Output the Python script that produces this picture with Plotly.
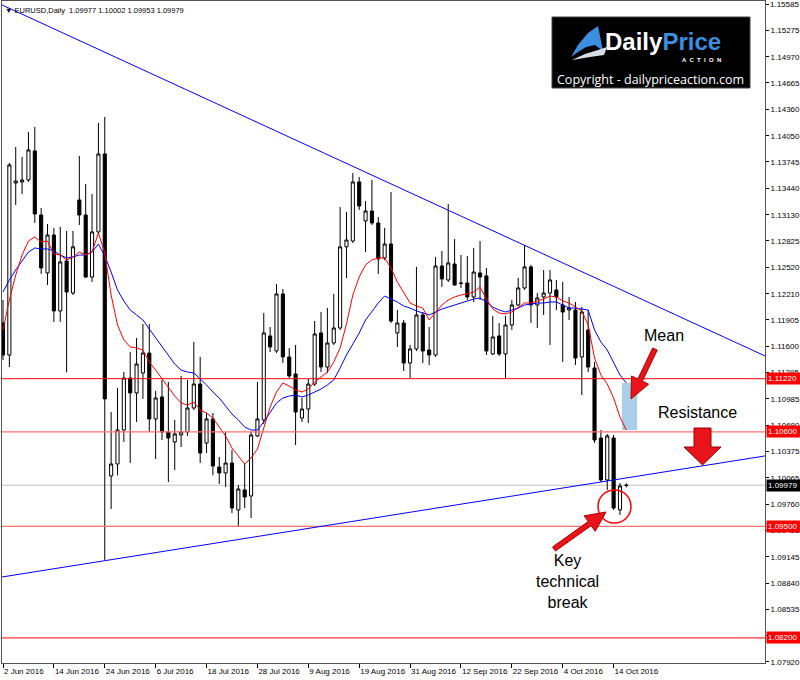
import math
import plotly.graph_objects as go
import pandas as pd

# ---------------- data ----------------
dates = [d.strftime("%Y-%m-%d") for d in pd.bdate_range("2016-06-02", "2016-10-18")]

opens = [1.11869, 1.11496, 1.13500, 1.13512, 1.13535, 1.13873, 1.13127, 1.12452, 1.12894, 1.12009,
         1.12591, 1.12218, 1.13302, 1.13127, 1.12405, 1.12930, 1.13838, 1.10087, 1.10226, 1.10622,
         1.11228, 1.11054, 1.11287, 1.11519, 1.10751, 1.11007, 1.10599, 1.10483, 1.10564, 1.10599,
         1.10879, 1.11158, 1.10471, 1.10751, 1.10191, 1.10122, 1.10238, 1.09691, 1.09924, 1.09854,
         1.10553, 1.10739, 1.11718, 1.11543, 1.12207, 1.11473, 1.11275, 1.10762, 1.10867, 1.11158,
         1.11753, 1.11356, 1.11636, 1.11811, 1.12756, 1.12824, 1.13512, 1.13057, 1.13174, 1.13034,
         1.12627, 1.12789, 1.11753, 1.11869, 1.11403, 1.11566, 1.11962, 1.11555, 1.11496, 1.12533,
         1.12370, 1.12556, 1.12335, 1.12335, 1.12172, 1.12452, 1.12417, 1.11508, 1.11718, 1.11508,
         1.11846, 1.12079, 1.12277, 1.12522, 1.12079, 1.12172, 1.12218, 1.12254, 1.12079, 1.12021,
         1.12021, 1.11473, 1.11788, 1.11345, 1.10529, 1.10040, 1.10529, 1.09691, 1.09977]
highs = [1.12137, 1.13733, 1.13919, 1.13803, 1.14094, 1.14153, 1.13209, 1.13022, 1.12976, 1.12987,
         1.12941, 1.12941, 1.13815, 1.13488, 1.13372, 1.14199, 1.14269, 1.10832, 1.11112, 1.11298,
         1.11531, 1.11694, 1.11857, 1.11857, 1.11077, 1.11205, 1.11182, 1.10739, 1.11252, 1.11205,
         1.11648, 1.11473, 1.10821, 1.10821, 1.10308, 1.10599, 1.10390, 1.09982, 1.10238, 1.10599,
         1.11182, 1.11986, 1.11823, 1.12323, 1.12265, 1.11578, 1.11613, 1.10995, 1.11217, 1.11892,
         1.11997, 1.12044, 1.12207, 1.13220, 1.13162, 1.13617, 1.13570, 1.13290, 1.13535, 1.13104,
         1.12976, 1.13395, 1.12020, 1.11904, 1.11613, 1.12522, 1.11997, 1.11823, 1.12638, 1.12708,
         1.13255, 1.12848, 1.12661, 1.12650, 1.12743, 1.12825, 1.12510, 1.11951, 1.11869, 1.11951,
         1.12137, 1.12394, 1.12778, 1.12545, 1.12218, 1.12487, 1.12487, 1.12370, 1.12347, 1.12172,
         1.12114, 1.12055, 1.12021, 1.11415, 1.10622, 1.10576, 1.10564, 1.10005, 1.10002]
lows = [1.11438, 1.11356, 1.13244, 1.13372, 1.13512, 1.13034, 1.12440, 1.12312, 1.11881, 1.11881,
        1.11294, 1.12195, 1.13011, 1.12393, 1.12347, 1.12906, 1.09108, 1.09702, 1.10094, 1.10483,
        1.10238, 1.10716, 1.10984, 1.10599, 1.10285, 1.10506, 1.10017, 1.10157, 1.10424, 1.10553,
        1.10856, 1.10238, 1.10355, 1.10094, 1.09993, 1.09959, 1.09656, 1.09504, 1.09714, 1.09597,
        1.10541, 1.10692, 1.11531, 1.11519, 1.11403, 1.11228, 1.10448, 1.10716, 1.10704, 1.11135,
        1.11298, 1.11287, 1.11613, 1.11788, 1.12393, 1.12801, 1.13186, 1.12696, 1.13011, 1.12440,
        1.12603, 1.11869, 1.11590, 1.11310, 1.11228, 1.11543, 1.11403, 1.11380, 1.11473, 1.12289,
        1.12347, 1.12300, 1.12277, 1.12137, 1.12114, 1.12137, 1.11496, 1.11496, 1.11485, 1.11228,
        1.11788, 1.12067, 1.12254, 1.11869, 1.11811, 1.11962, 1.11613, 1.12020, 1.11415, 1.11904,
        1.11380, 1.11030, 1.11298, 1.10471, 1.10017, 1.09924, 1.09691, 1.09632, 1.09953]
closes = [1.11496, 1.13710, 1.13523, 1.13535, 1.13885, 1.13139, 1.12510, 1.12894, 1.12009, 1.12580,
          1.12230, 1.12756, 1.13127, 1.12405, 1.12930, 1.13838, 1.10984, 1.10226, 1.10622, 1.11228,
          1.11054, 1.11391, 1.11519, 1.10751, 1.10995, 1.10599, 1.10529, 1.10576, 1.10599, 1.10879,
          1.11158, 1.10355, 1.10751, 1.10203, 1.10122, 1.10238, 1.09714, 1.09935, 1.09842, 1.10564,
          1.10751, 1.11753, 1.11590, 1.12207, 1.11473, 1.11252, 1.10832, 1.10867, 1.11158, 1.11741,
          1.11356, 1.11636, 1.11811, 1.12756, 1.12836, 1.13512, 1.13232, 1.13174, 1.13034, 1.12615,
          1.12789, 1.11892, 1.11869, 1.11403, 1.11566, 1.11962, 1.11543, 1.11496, 1.12533, 1.12382,
          1.12568, 1.12312, 1.12330, 1.12172, 1.12463, 1.12405, 1.11543, 1.11706, 1.11508, 1.11846,
          1.12079, 1.12277, 1.12522, 1.12079, 1.12160, 1.12218, 1.12370, 1.12172, 1.11997, 1.12044,
          1.11461, 1.11997, 1.11356, 1.10506, 1.10040, 1.10553, 1.09714, 1.09970, 1.09979]

ma_fast = [1.11787, 1.12137, 1.12428, 1.12661, 1.12824, 1.12871, 1.12813, 1.12824, 1.12673, 1.12661,
           1.12603, 1.12638, 1.12696, 1.12661, 1.12696, 1.12918, 1.12685, 1.12195, 1.11846, 1.11671,
           1.11590, 1.11578, 1.11554, 1.11414, 1.11321, 1.11216, 1.11123, 1.11018, 1.10937, 1.10913,
           1.10948, 1.10855, 1.10820, 1.10762, 1.10657, 1.10552, 1.10413, 1.10319, 1.10226, 1.10296,
           1.10401, 1.10646, 1.10890, 1.11065, 1.11170, 1.11135, 1.11088, 1.11065, 1.11100, 1.11182,
           1.11240, 1.11298, 1.11414, 1.11578, 1.11857, 1.12195, 1.12405, 1.12545, 1.12603, 1.12627,
           1.12627, 1.12510, 1.12347, 1.12218, 1.12102, 1.12067, 1.12043, 1.11904, 1.11985, 1.12078,
           1.12137, 1.12172, 1.12195, 1.12207, 1.12230, 1.12288, 1.12148, 1.12032, 1.11985, 1.11974,
           1.11997, 1.12055, 1.12102, 1.12102, 1.12125, 1.12148, 1.12183, 1.12172, 1.12125, 1.12102,
           1.12055, 1.12009, 1.11846, 1.11461, 1.11263, 1.11158, 1.10995, 1.10774, 1.10622]
ma_slow = [1.12230, 1.12370, 1.12487, 1.12592, 1.12696, 1.12743, 1.12731, 1.12731, 1.12708, 1.12661,
           1.12627, 1.12638, 1.12661, 1.12661, 1.12696, 1.12789, 1.12650, 1.12463, 1.12253, 1.12125,
           1.12020, 1.11962, 1.11904, 1.11799, 1.11694, 1.11590, 1.11496, 1.11391, 1.11321, 1.11298,
           1.11287, 1.11217, 1.11147, 1.11065, 1.10995, 1.10902, 1.10809, 1.10739, 1.10657, 1.10622,
           1.10622, 1.10716, 1.10832, 1.10937, 1.10995, 1.11018, 1.11030, 1.11007, 1.11030, 1.11065,
           1.11100, 1.11147, 1.11205, 1.11345, 1.11496, 1.11624, 1.11752, 1.11904, 1.12009, 1.12102,
           1.12183, 1.12148, 1.12114, 1.12067, 1.12043, 1.12009, 1.11985, 1.11962, 1.11997, 1.12032,
           1.12055, 1.12078, 1.12102, 1.12125, 1.12148, 1.12160, 1.12114, 1.12055, 1.12020, 1.11997,
           1.12020, 1.12043, 1.12078, 1.12090, 1.12102, 1.12102, 1.12114, 1.12114, 1.12078, 1.12043,
           1.12043, 1.12032, 1.12020, 1.11787, 1.11648, 1.11554, 1.11414, 1.11263, 1.11170]

tick_index = [0, 8, 16, 24, 32, 40, 48, 56, 64, 72, 80, 88, 96]
tick_labels = ["2 Jun 2016", "14 Jun 2016", "24 Jun 2016", "6 Jul 2016", "18 Jul 2016",
               "28 Jul 2016", "9 Aug 2016", "19 Aug 2016", "31 Aug 2016", "12 Sep 2016",
               "22 Sep 2016", "4 Oct 2016", "14 Oct 2016"]
price_ticks = [1.15585, 1.15275, 1.14970, 1.14665, 1.14360, 1.14050, 1.13745, 1.13440, 1.13130,
               1.12825, 1.12520, 1.12210, 1.11905, 1.11600, 1.11295, 1.10985, 1.10680, 1.10375,
               1.10065, 1.09760, 1.09455, 1.09145, 1.08840, 1.08535, 1.08230, 1.07920]
levels = [1.11220, 1.10600, 1.09500, 1.08200]
level_colors = ["#ff0000", "#ff7070", "#ff7070", "#ff0000"]
last_price = 1.09979
upper_trend = [1.15574, 1.11485]   # price at left / right edge of chart
lower_trend = [1.08910, 1.10320]
mean_zone = [1.10622, 1.11170]

# ---------------- figure ----------------
W, H = 800, 680
L, R, T, B = 2, 765, 1, 663
X0, X1 = -0.157, 119.8
Y0, Y1 = 1.07908, 1.15620

def px(x, y):
    return (x - L) / (R - L), (B - y) / (B - T)

def poly(points):
    s = ""
    for k, (x, y) in enumerate(points):
        a, b = px(x, y)
        s += ("M" if k == 0 else "L") + f"{a:.5f},{b:.5f} "
    return s + "Z"

def arrow_path(tail, tip, shaft_w, head_w, head_len):
    tx, ty = tail
    hx, hy = tip
    dx, dy = hx - tx, hy - ty
    d = math.hypot(dx, dy)
    ux, uy = dx / d, dy / d
    nx, ny = -uy, ux
    bx, by = hx - ux * head_len, hy - uy * head_len
    pts = [(tx + nx * shaft_w / 2, ty + ny * shaft_w / 2),
           (bx + nx * shaft_w / 2, by + ny * shaft_w / 2),
           (bx + nx * head_w / 2, by + ny * head_w / 2),
           (hx, hy),
           (bx - nx * head_w / 2, by - ny * head_w / 2),
           (bx - nx * shaft_w / 2, by - ny * shaft_w / 2),
           (tx - nx * shaft_w / 2, ty - ny * shaft_w / 2)]
    return poly(pts)

fig = go.Figure()
fig.add_trace(go.Candlestick(
    x=dates, open=opens, high=highs, low=lows, close=closes,
    increasing=dict(fillcolor="white", line=dict(color="black", width=1)),
    decreasing=dict(fillcolor="black", line=dict(color="black", width=1)),
    whiskerwidth=0, showlegend=False, hoverinfo="skip"))
fig.add_trace(go.Scatter(x=dates, y=ma_slow, mode="lines",
                         line=dict(color="#0000ff", width=1), showlegend=False, hoverinfo="skip"))
fig.add_trace(go.Scatter(x=dates, y=ma_fast, mode="lines",
                         line=dict(color="#ff0000", width=1), showlegend=False, hoverinfo="skip"))

shapes = []
shapes.append(dict(type="rect", xref="x", yref="y", x0=97.3, x1=99.7, y0=mean_zone[0], y1=mean_zone[1],
                   fillcolor="#a9cfea", line=dict(width=0), layer="below"))
shapes.append(dict(type="line", xref="paper", yref="y", x0=0, x1=1, y0=last_price, y1=last_price,
                   line=dict(color="#c0c0c0", width=1), layer="below"))
for lv, col in zip(levels, level_colors):
    shapes.append(dict(type="line", xref="paper", yref="y", x0=0, x1=1, y0=lv, y1=lv,
                       line=dict(color=col, width=1.3 if col != "#ff0000" else 1)))
shapes.append(dict(type="line", xref="x", yref="y", x0=X0, x1=X1, y0=upper_trend[0], y1=upper_trend[1],
                   line=dict(color="#0000ff", width=1)))
shapes.append(dict(type="line", xref="x", yref="y", x0=X0, x1=X1, y0=lower_trend[0], y1=lower_trend[1],
                   line=dict(color="#0000ff", width=1)))
cx0, cy0 = px(598, 523)
cx1, cy1 = px(631, 490)
shapes.append(dict(type="circle", xref="paper", yref="paper", x0=cx0, y0=cy0, x1=cx1, y1=cy1,
                   line=dict(color="#ff0000", width=1.5)))
shapes.append(dict(type="path", xref="paper", yref="paper",
                   path=arrow_path((655, 349), (631, 399), 5, 19, 21),
                   fillcolor="#e8141a", line=dict(color="#b00000", width=1)))
shapes.append(dict(type="path", xref="paper", yref="paper",
                   path=arrow_path((554, 549), (606, 512), 5, 19, 20),
                   fillcolor="#e8141a", line=dict(color="#b00000", width=1)))
shapes.append(dict(type="path", xref="paper", yref="paper",
                   path=poly([(694, 428), (711, 428), (711, 447), (721, 447), (702.5, 465), (684, 447), (694, 447)]),
                   fillcolor="#e8141a", line=dict(color="#9a0000", width=1)))

# logo
lx0, ly0 = px(552, 88)
lx1, ly1 = px(750, 17)
shapes.append(dict(type="rect", xref="paper", yref="paper", x0=lx0, y0=ly0, x1=lx1, y1=ly1,
                   fillcolor="black", line=dict(color="#444444", width=1)))
shapes.append(dict(type="path", xref="paper", yref="paper",
                   path=poly([(571, 57), (578, 45), (588, 33), (598, 26), (600, 36), (603, 51),
                              (595, 45), (586, 47), (578, 52)]),
                   fillcolor="#3b8fe0", line=dict(width=0)))
shapes.append(dict(type="path", xref="paper", yref="paper",
                   path=poly([(572, 60), (585, 54), (598, 50), (607, 47), (604, 55), (590, 57)]),
                   fillcolor="#d8dde3", line=dict(width=0)))

annotations = []
def text_at(x, y, text, size, color="black", xanchor="center", family="Liberation Sans"):
    a, b = px(x, y)
    annotations.append(dict(x=a, y=b, xref="paper", yref="paper", text=text, showarrow=False,
                            xanchor=xanchor, yanchor="middle",
                            font=dict(family=family, size=size, color=color)))

text_at(3, 10, "▼ EURUSD,Daily  1.09977 1.10002 1.09953 1.09979", 7.5, xanchor="left")
text_at(664, 335, "Mean", 16)
text_at(697, 413, "Resistance", 16)
text_at(567, 581, "Key<br>technical<br>break", 16)
text_at(663, 42, "<b>Daily<span style='color:#3b8fe0'>Price</span></b>", 24, color="white")
text_at(701, 60, "<b>A  C  T  I  O  N</b>", 6, color="white")
text_at(650, 79, "Copyright - dailypriceaction.com", 12.5, color="white", family="Open Sans")

# top tick label (plotly drops it at the very edge)
annotations.append(dict(x=1, y=price_ticks[0], xref="paper", yref="y", xanchor="left", yanchor="middle",
                        text=f"{price_ticks[0]:.5f}", showarrow=False, xshift=3,
                        font=dict(family="Liberation Sans", size=8, color="black")))

for lv, col in zip(levels + [last_price], ["#ff0000"] * 4 + ["black"]):
    annotations.append(dict(x=1, y=lv, xref="paper", yref="y", xanchor="left", yanchor="middle",
                            text=f"{lv:.5f}", showarrow=False, bgcolor=col, borderpad=1,
                            width=31, align="left", xshift=1,
                            font=dict(family="Liberation Sans", size=8, color="white")))

fig.update_layout(
    width=W, height=H, margin=dict(l=L, r=W - R, t=T, b=H - B, autoexpand=False),
    paper_bgcolor="white", plot_bgcolor="white",
    shapes=shapes, annotations=annotations, showlegend=False,
    xaxis=dict(type="category", range=[X0, X1], rangeslider=dict(visible=False), automargin=False,
               tickmode="array", tickvals=[dates[i] for i in tick_index], ticktext=tick_labels,
               tickangle=0, ticks="outside", ticklen=4, tickcolor="black",
               ticklabelposition="outside right",
               showgrid=False, zeroline=False, showline=True, mirror=True, linecolor="#555555",
               tickfont=dict(family="Liberation Sans", size=8, color="black")),
    yaxis=dict(side="right", range=[Y0, Y1], tickmode="array", tickvals=price_ticks, automargin=False,
               ticktext=[f"{v:.5f}" for v in price_ticks], ticks="outside", ticklen=3,
               ticklabelstandoff=0,
               tickcolor="black", showgrid=False, zeroline=False, showline=True, mirror=True,
               linecolor="#555555", tickfont=dict(family="Liberation Sans", size=8, color="black")),
)
fig.write_html("out.html", config={"displayModeBar": False},
               post_script="document.body.style.margin='0px';")
